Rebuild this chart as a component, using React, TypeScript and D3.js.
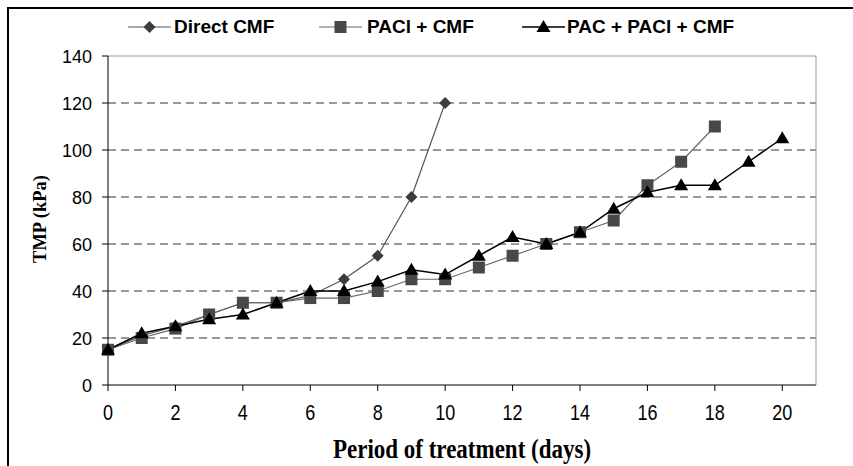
import React from 'react';
import * as d3 from 'd3';

// data
const days = d3.range(0, 21);
const directCMF = [15, 21, 25, 30, 35, 35, 38, 45, 55, 80, 120];
const paclCMF = [15, 20, 24, 30, 35, 35, 37, 37, 40, 45, 45, 50, 55, 60, 65, 70, 85, 95, 110];
const pacPaclCMF = [15, 22, 25, 28, 30, 35, 40, 40, 44, 49, 47, 55, 63, 60, 65, 75, 82, 85, 85, 95, 105];
const xTicks = [0, 2, 4, 6, 8, 10, 12, 14, 16, 18, 20];
const yTicks = [0, 20, 40, 60, 80, 100, 120, 140];

const series = [
    { name: 'Direct CMF', values: directCMF, marker: 'diamond', fill: '#3c3c3c', stroke: '#555', width: 1.2 },
    { name: 'PACl + CMF', values: paclCMF, marker: 'square', fill: '#484848', stroke: '#666', width: 1.2 },
    { name: 'PAC + PACl + CMF', values: pacPaclCMF, marker: 'triangle', fill: '#000', stroke: '#000', width: 1.5 }
];

const Marker = ({ type, x, y, fill }) => {
    if (type === 'diamond') {
        return <path d={`M${x},${y - 6}L${x + 6},${y}L${x},${y + 6}L${x - 6},${y}Z`} fill={fill} />;
    }
    if (type === 'square') {
        return <rect x={x - 6} y={y - 6} width={12} height={12} fill={fill} />;
    }
    return <path d={`M${x},${y - 7}L${x + 7},${y + 5}L${x - 7},${y + 5}Z`} fill={fill} />;
};

const App = () => {
    const width = 853;
    const height = 466;
    const margin = { top: 56, right: 37, bottom: 81, left: 108 };
    const innerW = width - margin.left - margin.right;
    const innerH = height - margin.top - margin.bottom;

    const xScale = d3.scaleLinear().domain([0, 21]).range([0, innerW]);
    const yScale = d3.scaleLinear().domain([0, 140]).range([innerH, 0]);

    const line_generator = d3.line<number>()
        .x((d, i) => xScale(days[i]))
        .y(d => yScale(d));

    // legend positions
    const legendItems = [
        { x: 128, textX: 174 },
        { x: 319, textX: 367 },
        { x: 522, textX: 567 }
    ];

    const sans = "'Liberation Sans', Arial, sans-serif";
    const serif = "'Liberation Serif', 'Times New Roman', serif";

    return (
        <svg width={width} height={height} style={{ position: 'absolute', left: 0, top: 0 }}>
            <rect x={0} y={0} width={width} height={height} fill="#fff" />
            <rect x={8} y={8} width={width + 10} height={height + 10} fill="none" stroke="#000" strokeWidth={2} />

            {/* legend */}
            <g fontFamily={sans} fontWeight="bold" fontSize={19}>
                {series.map((s, i) => (
                    <g key={s.name}>
                        <line x1={legendItems[i].x} x2={legendItems[i].x + 43} y1={27} y2={27} stroke={s.stroke} strokeWidth={s.width} />
                        <Marker type={s.marker} x={legendItems[i].x + 21.5} y={27} fill={s.fill} />
                        <text x={legendItems[i].textX} y={32.5} fill="#000">{s.name}</text>
                    </g>
                ))}
            </g>

            <g transform={`translate(${margin.left}, ${margin.top})`}>
                {/* grid */}
                {yTicks.filter(t => t > 0 && t < 140).map(t => (
                    <line key={t} x1={0} x2={innerW} y1={yScale(t)} y2={yScale(t)} stroke="#333" strokeWidth={1} strokeDasharray="8,5" />
                ))}
                <line x1={0} x2={innerW} y1={0} y2={0} stroke="#999" />
                <line x1={innerW} x2={innerW} y1={0} y2={innerH} stroke="#999" />

                {/* axes */}
                <line x1={0} x2={innerW} y1={innerH} y2={innerH} stroke="#000" />
                <line x1={0} x2={0} y1={0} y2={innerH} stroke="#000" />
                {yTicks.map(t => (
                    <g key={t}>
                        <line x1={-6} x2={0} y1={yScale(t)} y2={yScale(t)} stroke="#000" />
                        <text x={-16} y={yScale(t) + 6.5} textAnchor="end" fontFamily={sans} fontSize={18} fill="#000">{t}</text>
                    </g>
                ))}
                {xTicks.map(t => (
                    <g key={t}>
                        <line x1={xScale(t)} x2={xScale(t)} y1={innerH} y2={innerH + 6} stroke="#000" />
                        <text transform={`translate(${xScale(t)}, ${innerH + 35}) scale(1, 1.25)`} textAnchor="middle" fontFamily={sans} fontSize={18} fill="#000">{t}</text>
                    </g>
                ))}

                {/* lines */}
                {series.map(s => (
                    <path key={s.name} d={line_generator(s.values)} fill="none" stroke={s.stroke} strokeWidth={s.width} />
                ))}
                {series.map(s => (
                    <g key={s.name + 'm'}>
                        {s.values.map((v, i) => (
                            <Marker key={i} type={s.marker} x={xScale(days[i])} y={yScale(v)} fill={s.fill} />
                        ))}
                    </g>
                ))}
            </g>

            {/* axis titles */}
            <text transform="translate(462, 458) scale(1, 1.2)" textAnchor="middle" fontFamily={serif} fontWeight="bold" fontSize={23} fill="#000">Period of treatment (days)</text>
            <text transform={`translate(46, 219) rotate(-90)`} textAnchor="middle" fontFamily={serif} fontWeight="bold" fontSize={18.5} fill="#000">TMP (kPa)</text>
        </svg>
    );
};

export default App;
